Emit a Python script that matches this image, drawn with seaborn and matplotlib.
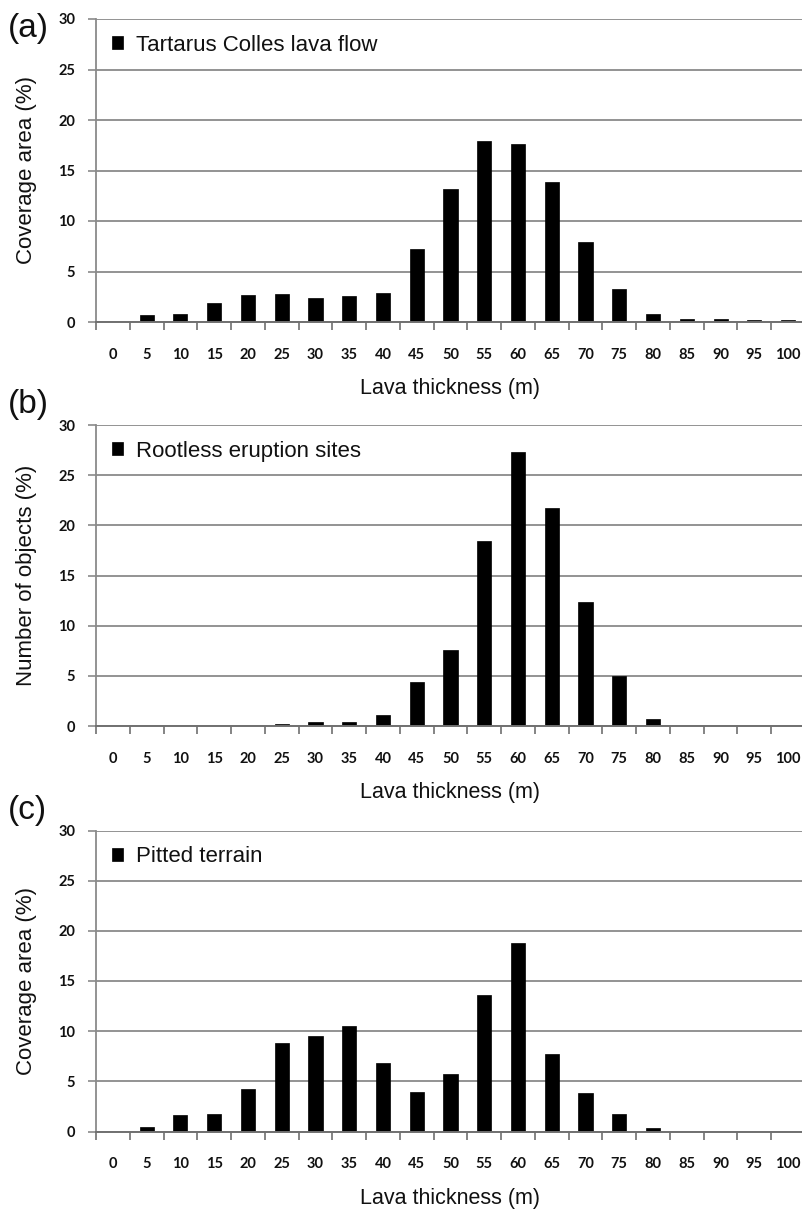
import numpy as np
import pandas as pd
import seaborn as sns
import matplotlib.pyplot as plt
from matplotlib.ticker import MultipleLocator, FixedLocator

thickness = ["0", "5", "10", "15", "20", "25", "30", "35", "40", "45", "50",
             "55", "60", "65", "70", "75", "80", "85", "90", "95", "100"]
lava_flow = [0, 0.65, 0.8, 1.9, 2.7, 2.8, 2.4, 2.55, 2.9, 7.25, 13.2,
             17.9, 17.6, 13.9, 7.9, 3.3, 0.8, 0.3, 0.3, 0.17, 0.17]
rootless = [0, 0, 0, 0, 0, 0.2, 0.35, 0.35, 1.07, 4.4, 7.6,
            18.4, 27.3, 21.7, 12.4, 5.0, 0.7, 0, 0, 0, 0]
pitted = [0, 0.42, 1.6, 1.72, 4.25, 8.85, 9.5, 10.5, 6.8, 3.9, 5.7,
          13.6, 18.8, 7.7, 3.8, 1.75, 0.3, 0, 0, 0, 0]

panel_tags = ["(a)", "(b)", "(c)"]
legend_names = ["Tartarus Colles lava flow", "Rootless eruption sites", "Pitted terrain"]
y_titles = ["Coverage area (%)", "Number of objects (%)", "Coverage area (%)"]
x_title = "Lava thickness (m)"

sns.set_theme(style="white")
plt.rcParams['font.family'] = ['Liberation Sans', 'DejaVu Sans']

W, H = 803, 1211
fig = plt.figure(figsize=(W / 100, H / 100), dpi=100)

geoms = [(19, 322), (425, 726), (830.5, 1131.5)]
tag_y = [28, 404, 810]
series = [lava_flow, rootless, pitted]
left, right = 96, 805

for i in range(3):
    top, bot = geoms[i]
    ax = fig.add_axes([left / W, 1 - bot / H, (right - left) / W, (bot - top) / H])
    df = pd.DataFrame({"thickness": thickness, "value": series[i]})
    sns.barplot(data=df, x="thickness", y="value", color="black", width=0.42,
                saturation=1, ax=ax, label=legend_names[i], edgecolor="black", linewidth=0.5)
    ax.set_xlim(-0.5, 20.5)
    ax.set_ylim(0, 30)
    ax.yaxis.set_major_locator(MultipleLocator(5))
    ax.grid(axis='y', color='#8a8a8a', lw=1.3)
    ax.grid(axis='x', visible=False)
    ax.set_axisbelow(True)
    for s in ['top', 'right']:
        ax.spines[s].set_visible(False)
    ax.spines['left'].set_color('#8a8a8a')
    ax.spines['left'].set_linewidth(1.3)
    ax.spines['bottom'].set_color('#707070')
    ax.spines['bottom'].set_linewidth(1.4)
    ax.xaxis.set_minor_locator(FixedLocator(np.arange(-0.5, 21, 1)))
    ax.tick_params(axis='x', which='major', length=0, pad=18.5, labelsize=10.5)
    ax.tick_params(axis='x', which='minor', length=6, width=1.2, color='#707070', direction='out', bottom=True)
    ax.tick_params(axis='y', which='major', length=6, width=1.2, color='#8a8a8a', direction='out',
                   left=True, pad=9, labelsize=10.5)
    for lab in ax.get_xticklabels() + ax.get_yticklabels():
        lab.set_fontfamily(['Lato', 'DejaVu Sans'])
        lab.set_fontweight('bold')
        lab.set_color('#111111')
    ax.set_xlabel(x_title, fontsize=15.5, color='#111111', labelpad=12)
    ax.set_ylabel(y_titles[i], fontsize=16, color='#111111', labelpad=14)
    ax.yaxis.set_label_coords(-(left - 37) / (right - left), 0.5)
    leg = ax.legend(loc='upper left', frameon=False, fontsize=16, handlelength=0.5,
                    handleheight=0.5, handletextpad=0.6, borderaxespad=0.3,
                    bbox_to_anchor=(0.0, 1.0))
    for t in leg.get_texts():
        t.set_color('#111111')
    fig.text(8 / W, 1 - tag_y[i] / H, panel_tags[i], fontsize=24, va='center', ha='left', color='#111111')

fig.savefig("out.png", dpi=100)
